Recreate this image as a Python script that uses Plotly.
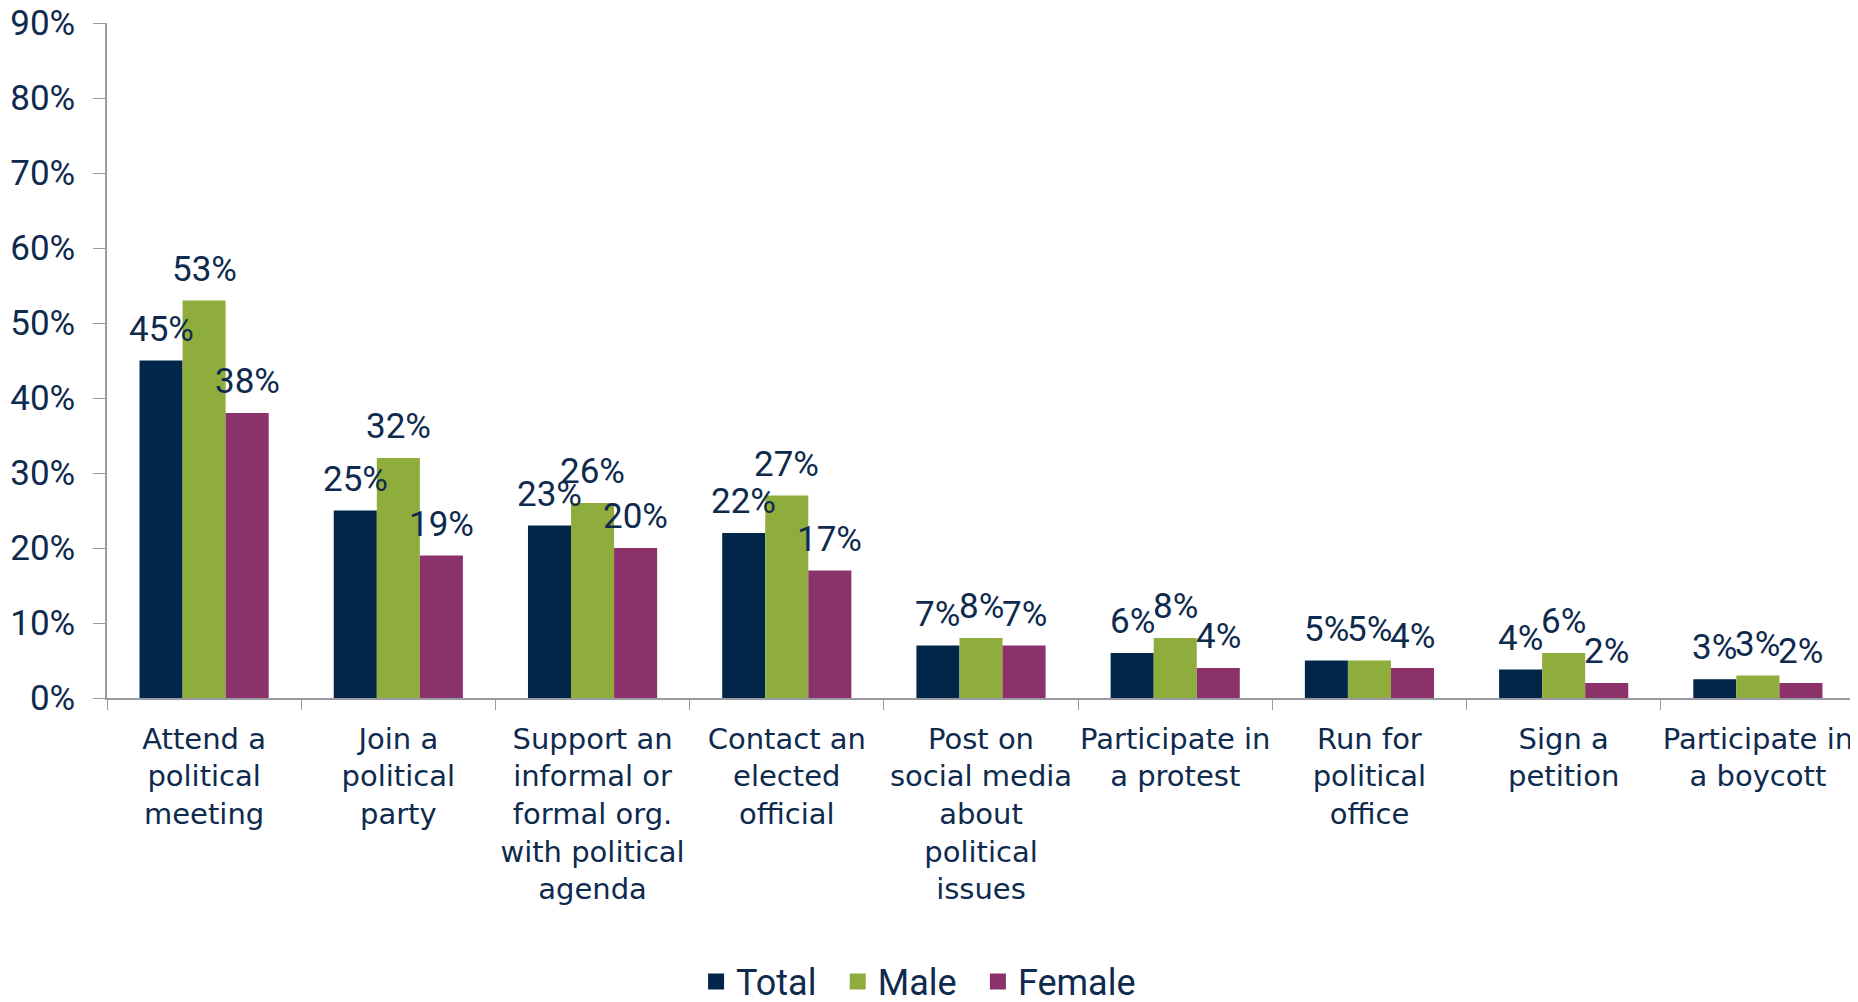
import plotly.graph_objects as go

categories = [
    "Attend a<br>political<br>meeting",
    "Join a<br>political<br>party",
    "Support an<br>informal or<br>formal org.<br>with political<br>agenda",
    "Contact an<br>elected<br>official",
    "Post on<br>social media<br>about<br>political<br>issues",
    "Participate in<br>a protest",
    "Run for<br>political<br>office",
    "Sign a<br>petition",
    "Participate in<br>a boycott",
]
total = [45, 25, 23, 22, 7, 6, 5, 3.8, 2.5]
male = [53, 32, 26, 27, 8, 8, 5, 6, 3]
female = [38, 19, 20, 17, 7, 4, 4, 2, 2]
series_names = ["Total", "Male", "Female"]
series_colors = ["#01264A", "#8FAD3D", "#8B326A"]
y_ticks = [0, 10, 20, 30, 40, 50, 60, 70, 80, 90]
y_tick_labels = ["0%", "10%", "20%", "30%", "40%", "50%", "60%", "70%", "80%", "90%"]

TEXT = "#0E2A4D"
AXIS = "#9A9AA3"
NUM_FONT = "Roboto, sans-serif"
CAT_FONT = "DejaVu Sans, sans-serif"
LEGEND_PAD = "\u00a0\u2009"  # extra spacing between legend entries

W, H = 1850, 994
ML, MR, MT, MB = 99, 3, 15, 304
BARGAP = 0.335
cat_px = (W - ML - MR) / len(categories)
bar_px = cat_px * (1 - BARGAP) / 3

fig = go.Figure()
all_vals = [total, male, female]
n_series = len(series_names)
for k, (name, vals, col) in enumerate(zip(series_names, all_vals, series_colors)):
    fig.add_trace(go.Bar(
        x=categories, y=vals, name=name,
        marker=dict(color=col, line=dict(width=0)),
        showlegend=False, legendgroup=name,
    ))
    # legend proxy with larger square symbol
    fig.add_trace(go.Scatter(
        x=[None], y=[None], mode="markers",
        name=name + (LEGEND_PAD if k < n_series - 1 else ""),
        legendgroup=name,
        marker=dict(symbol="square", size=19, color=col),
    ))
    for c, v in zip(categories, vals):
        fig.add_annotation(
            x=c, y=v, xref="x", yref="y",
            text=f"{int(v + 0.5)}%", showarrow=False,
            xanchor="center", yanchor="bottom",
            xshift=(k - 1) * bar_px, yshift=9,
            font=dict(family=NUM_FONT, size=35, color=TEXT),
        )

fig.update_layout(
    barmode="group",
    bargap=BARGAP,
    bargroupgap=0,
    width=W, height=H,
    margin=dict(l=ML, r=MR, t=MT, b=MB, autoexpand=False),
    plot_bgcolor="white", paper_bgcolor="white",
    font=dict(family=NUM_FONT, color=TEXT),
    legend=dict(
        orientation="h", xanchor="left", yanchor="middle",
        x=0.337, y=-0.42,
        font=dict(family=NUM_FONT, size=36, color=TEXT),
        bgcolor="rgba(0,0,0,0)",
    ),
    xaxis=dict(
        showline=True, linecolor=AXIS, linewidth=1.5,
        ticks="outside", tickson="boundaries", ticklen=10, tickcolor=AXIS,
        tickfont=dict(family=CAT_FONT, size=29, color=TEXT),
        tickangle=0, automargin=False, ticklabelstandoff=14,
        showgrid=False,
    ),
    yaxis=dict(
        range=[0, 90], tickvals=y_ticks, ticktext=y_tick_labels,
        showline=True, linecolor=AXIS, linewidth=1.5,
        ticks="outside", ticklen=12, tickcolor=AXIS,
        tickfont=dict(family=NUM_FONT, size=35, color=TEXT),
        showgrid=False, zeroline=False, automargin=False,
        ticklabelstandoff=11, ticklabeloverflow="allow",
    ),
)

fig.write_html("out.html")
